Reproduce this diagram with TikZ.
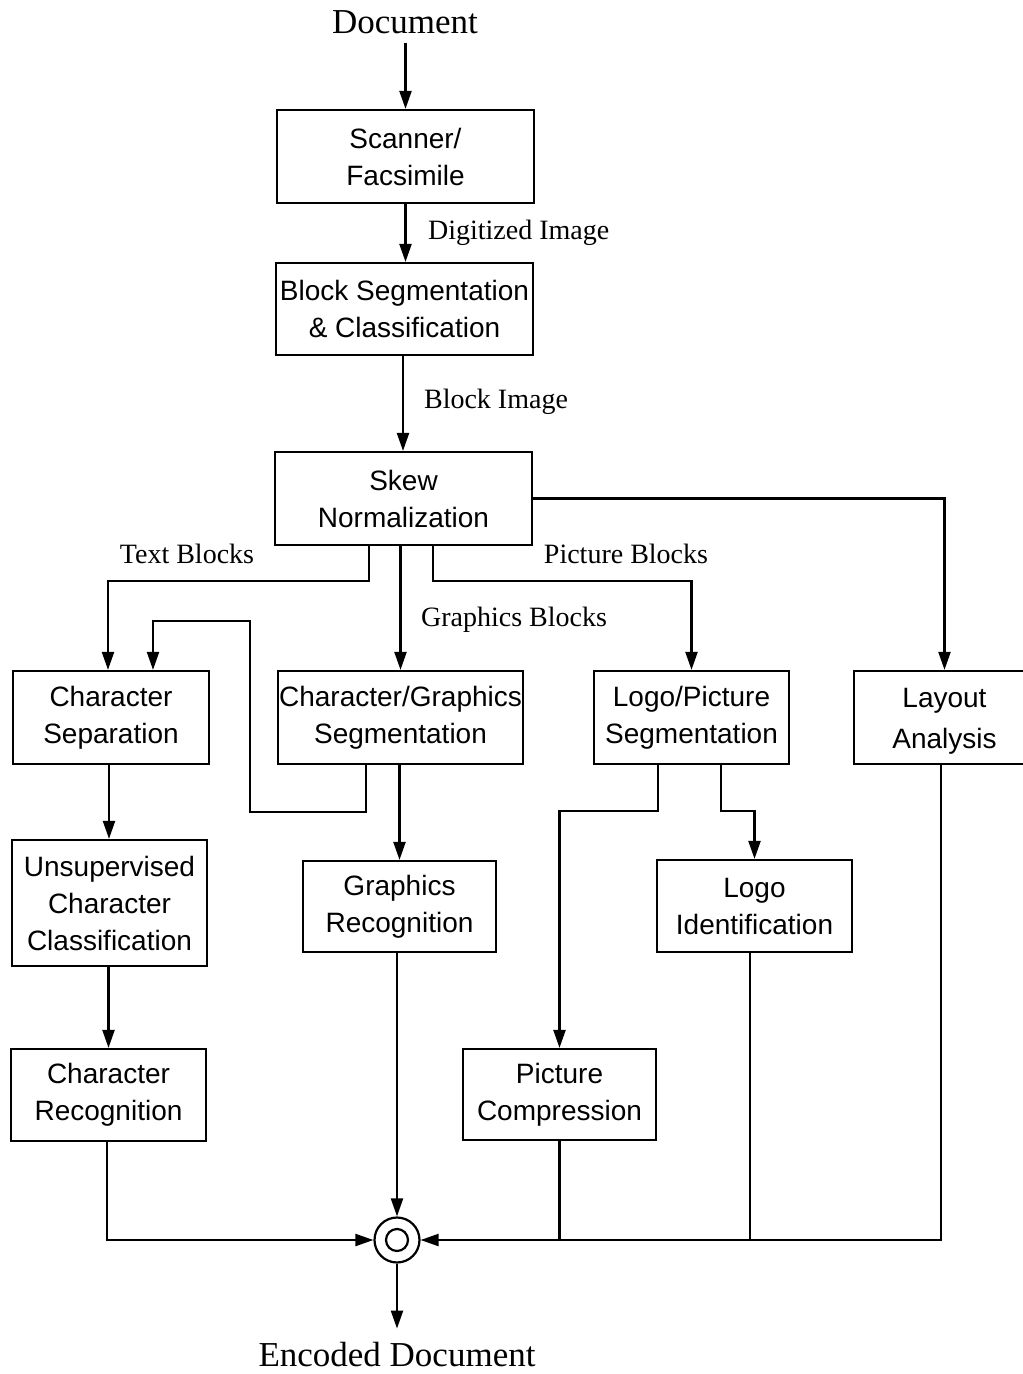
\documentclass[tikz,border=0pt]{standalone}
\usepackage{fontspec}
\setmainfont{Liberation Serif}
\setsansfont{Liberation Sans}
\usetikzlibrary{arrows.meta}
\begin{document}
\begin{tikzpicture}[x=1pt,y=-1pt,
  line width=2.2pt,
  blk/.style={draw, rectangle, inner sep=0pt, align=center,
    font=\sffamily\fontsize{28}{37}\selectfont},
  lbl/.style={inner sep=0pt, font=\fontsize{28}{34}\selectfont},
  ttl/.style={inner sep=0pt, font=\fontsize{35}{40}\selectfont},
  arr/.style={-{Triangle[length=18pt,width=12pt]}},
  wire/.style={line join=miter}]
\useasboundingbox (0,0) rectangle (1023,1374);
\clip (0,0) rectangle (1023,1374);

% input / output captions
\node[ttl] (doc) at (405,22) {Document};
\node[ttl] (out) at (397,1355) {Encoded Document};

% processing stages
\node[blk, minimum width=257pt, minimum height=93pt] (scan)   at (405.5,156.5) {Scanner/\\Facsimile};
\node[blk, minimum width=257pt, minimum height=92pt] (block)  at (404.5,309)   {Block Segmentation\\\& Classification};
\node[blk, minimum width=257pt, minimum height=93pt] (skew)   at (403.5,498.5) {Skew\\Normalization};
\node[blk, minimum width=196pt, minimum height=93pt] (csep)   at (111,717.5)   {Character\\Separation};
\node[blk, minimum width=245pt, minimum height=93pt] (cgs)    at (400.5,717.5) {Character/Graphics\\Segmentation};
\node[blk, minimum width=195pt, minimum height=93pt] (lps)    at (691.5,717.5) {Logo/Picture\\Segmentation};
\node[blk, minimum width=181pt, minimum height=93pt] (layout) at (944.5,717.5) {};
\node[inner sep=0pt, align=center, font=\sffamily\fontsize{28}{41}\selectfont]
      (layoutTxt) at ([yshift=-4pt]layout.center) {Layout\\Analysis};
\node[blk, minimum width=195pt, minimum height=126pt] (unsup) at (109.5,903)   {Unsupervised\\Character\\Classification};
\node[blk, minimum width=195pt, minimum height=92pt] (crec)   at (108.5,1095)  {Character\\Recognition};
\node[blk, minimum width=193pt, minimum height=91pt] (grec)   at (399.5,906.5) {Graphics\\Recognition};
\node[blk, minimum width=195pt, minimum height=92pt] (logoid) at (754.5,906)   {Logo\\Identification};
\node[blk, minimum width=193pt, minimum height=91pt] (pcomp)  at (559.5,1094.5){Picture\\Compression};

% combining junction
\node[draw, circle, minimum size=45pt, inner sep=0pt] (j) at (397,1240) {};
\draw (j.center) circle (11pt);

% main vertical chain
\draw[arr] (scan.north |- doc.south) ++(0,8) -- (scan.north);
\draw[arr] (scan.south) -- (scan.south |- block.north);
\draw[arr] (block.south -| 403,0) -- (403,0 |- skew.north);
\node[lbl, anchor=west] (lDig) at (427,232.5) {Digitized Image};
\node[lbl, anchor=west] (lBlk) at (423,401.5) {Block Image};

% branches leaving skew normalization
\draw[arr, wire] (skew.east) -| (layout.north);
\draw[arr, wire] ([xshift=-34.5pt]skew.south) -- ++(0,35) -| ([xshift=-3pt]csep.north);
\draw[arr] (cgs.north |- skew.south) -- (cgs.north);
\draw[arr, wire] ([xshift=29.5pt]skew.south) -- ++(0,35) -| (lps.north);
\node[lbl] (lText) at (187,554) {Text Blocks};
\node[lbl] (lPic)  at (626,554) {Picture Blocks};
\node[lbl] (lGfx)  at (514,619.5) {Graphics Blocks};

% character path, with feedback from character/graphics segmentation
\coordinate (fbA) at (250,812);
\coordinate (fbB) at (250,621);
\draw[arr, wire] ([xshift=-34.5pt]cgs.south) |- (fbA) -- (fbB) -| ([xshift=42pt]csep.north);
\draw[arr] ([xshift=-2pt]csep.south) -- ([xshift=-2pt]csep.south |- unsup.north);
\draw[arr] ([xshift=-1pt]unsup.south) -- ([xshift=-1pt]unsup.south |- crec.north);

% graphics path
\draw[arr] (grec.north |- cgs.south) -- (grec.north);

% logo / picture paths
\draw[arr, wire] ([xshift=-33.5pt]lps.south) -- ++(0,46) -| (pcomp.north);
\draw[arr, wire] ([xshift=29.5pt]lps.south) -- ++(0,46) -| (logoid.north);

% everything converges on the junction
\draw[arr] (j.north |- grec.south) -- (j.north);
\draw[arr, wire] ([xshift=-1.5pt]crec.south) |- (j.west);
\draw[arr, wire] ([xshift=-3.5pt]layout.south) |- (j.east);
\draw (pcomp.south) -- (pcomp.south |- j.east);
\draw ([xshift=-4.5pt]logoid.south) -- ([xshift=-4.5pt]logoid.south |- j.east);
\draw[arr] (j.south) -- ([yshift=13pt]out.north);
\end{tikzpicture}
\end{document}
